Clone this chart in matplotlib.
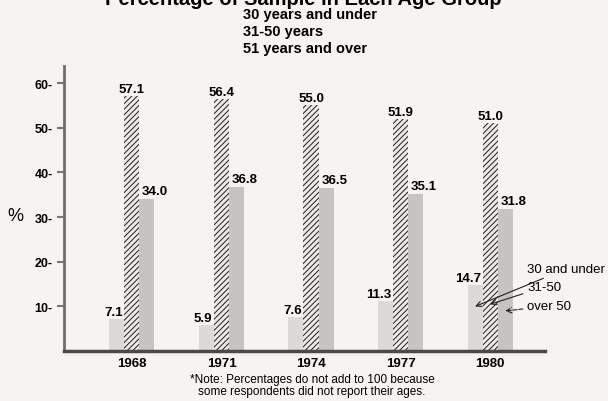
import matplotlib.pyplot as plt
import numpy as np

# Werte
years = ['1968', '1971', '1974', '1977', '1980']
under_30 = [7.1, 5.9, 7.6, 11.3, 14.7]
age_31_50 = [57.1, 56.4, 55.0, 51.9, 51.0]
over_50 = [34.0, 36.8, 36.5, 35.1, 31.8]

title = 'Percentage of Sample in Each Age Group'
legend_lines = ['30 years and under', '31-50 years', '51 years and over']
y_ticks = [10, 20, 30, 40, 50, 60]
note = ('*Note: Percentages do not add to 100 because\n'
        'some respondents did not report their ages.')

plt.rcParams['font.family'] = ['Liberation Sans', 'DejaVu Sans']
plt.rcParams['hatch.linewidth'] = 0.7

bg = '#f7f3f1'
fig = plt.figure(figsize=(6.08, 4.02), dpi=100, facecolor=bg)
ax = fig.add_axes([0.105, 0.124, 0.791, 0.709], facecolor=bg)

x = np.arange(len(years))
w = 0.168

ax.bar(x - w, under_30, w, color='#dcdad8', linewidth=0)
ax.bar(x, age_31_50, w, color='#ece9e7', edgecolor='#1e1e1e',
       hatch='//////', linewidth=0)
ax.bar(x + w, over_50, w, color='#c6c4c2', linewidth=0)

# Beschriftungen der Balken
for i in range(len(years)):
    ax.text(x[i], age_31_50[i] + 0.3, f'{age_31_50[i]:.1f}', ha='center',
            va='bottom', fontsize=9.5, fontweight='bold')
    ax.text(x[i] + w / 2 + 0.03, over_50[i] + 1.8, f'{over_50[i]:.1f}',
            ha='left', va='center', fontsize=9.5, fontweight='bold')
    ax.text(x[i] - w / 2 - 0.02, under_30[i] + 1.6, f'{under_30[i]:.1f}',
            ha='right', va='center', fontsize=9.5, fontweight='bold')

ax.set_xlim(-0.76, 4.61)
ax.set_ylim(0, 63.8)
ax.set_xticks(x)
ax.set_xticklabels(years, fontsize=9.5, fontweight='bold')
ax.set_yticks(y_ticks)
ax.set_yticklabels([f'{t}-' for t in y_ticks], fontsize=9, fontweight='bold')
ax.tick_params(axis='x', length=0, pad=4)
ax.tick_params(axis='y', length=5, width=1.5, color='#777777', pad=3)

for s in ['top', 'right']:
    ax.spines[s].set_visible(False)
ax.spines['left'].set_color('#6e6e6e')
ax.spines['left'].set_linewidth(2)
ax.spines['bottom'].set_color('#4a4a4a')
ax.spines['bottom'].set_linewidth(2.5)

fig.text(15 / 608, 1 - 217 / 402, '%', ha='center', va='center', fontsize=13)

# Titel (oben abgeschnitten wie im Scan)
fig.text(303 / 608, 1 - 5 / 402, title, ha='center', va='baseline',
         fontsize=14.5, fontweight='bold')
for k, line in enumerate(legend_lines):
    fig.text(243 / 608, 1 - (15 + 17 * k) / 402, line, ha='left',
             va='center', fontsize=10.5, fontweight='bold')

# Pfeile im Jahr 1980
last = len(years) - 1
arrow = dict(arrowstyle='->', lw=0.8, color='#222222', shrinkA=1, shrinkB=0)
ax.annotate('30 and under', xy=(x[last] - w, 10), xytext=(527, 402 - 270),
            textcoords='figure pixels', ha='left', va='center', fontsize=9.5,
            arrowprops=arrow)
ax.annotate('31-50', xy=(x[last], 10.5), xytext=(527, 402 - 288),
            textcoords='figure pixels', ha='left', va='center', fontsize=9.5,
            arrowprops=arrow)
ax.annotate('over 50', xy=(x[last] + w, 9), xytext=(527, 402 - 307),
            textcoords='figure pixels', ha='left', va='center', fontsize=9.5,
            arrowprops=dict(arrow, linestyle='--'))

fig.text(312 / 608, 1 - 386 / 402, note, ha='center', va='center',
         fontsize=8.5, linespacing=1.05)

fig.savefig('out.png', dpi=100, facecolor=bg)
